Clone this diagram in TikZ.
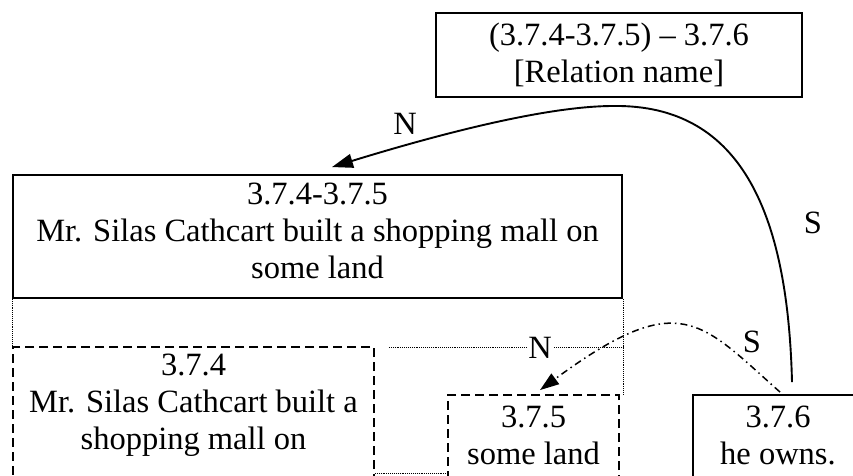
\documentclass[tikz,border=0pt]{standalone}
\usepackage{fontspec}
\setmainfont{Liberation Serif}
\usetikzlibrary{arrows.meta,calc}
\begin{document}
\begin{tikzpicture}[x=1pt,y=-1pt,
  boxsolid/.style={draw, line width=1.9pt, inner sep=0pt, rectangle},
  boxdash/.style={draw, line width=1.9pt, dash pattern=on 9pt off 5pt, inner sep=0pt, rectangle},
  txt/.style={align=center, inner sep=0pt, font=\fontsize{32.5}{37}\selectfont},
  lab/.style={inner sep=1pt, font=\fontsize{32.5}{37}\selectfont},
  dotline/.style={line width=0.9pt, densely dotted},
  rel/.style={line width=1.9pt, -{Triangle[length=21pt,width=14pt]}},
  reldd/.style={line width=1.5pt, dash pattern=on 7pt off 4pt on 1.5pt off 4pt, -{Triangle[length=19pt,width=13pt]}},
]
\clip (0,0) rectangle (853,475);
% boxes
\node[boxsolid, txt, minimum width=366pt, minimum height=84pt] (top) at (619,55)
  {(3.7.4-3.7.5) -- 3.7.6\\{}[Relation name]};
\node[boxsolid, minimum width=609pt, minimum height=123pt] (b345) at (317.5,236.5) {};
\node[txt, anchor=north] (t345) at (317.5,183)
  {3.7.4-3.7.5\\Mr. Silas Cathcart built a shopping mall on\\some land};
\node[boxdash, minimum width=361pt, minimum height=153pt] (b374) at (193.5,423.5) {};
\node[txt, anchor=north] (t374) at (193.5,354)
  {3.7.4\\Mr. Silas Cathcart built a\\shopping mall on};
\node[boxdash, minimum width=171pt, minimum height=100pt] (b375) at (533.5,445) {};
\node[txt, anchor=north] (t375) at (533.5,406) {3.7.5\\some land};
\node[boxsolid, minimum width=170pt, minimum height=100pt] (b376) at (778,445) {};
\node[txt, anchor=north] (t376) at (778,406) {3.7.6\\he owns.};
% dotted outline of the lower span
\draw[dotline] (b345.south west) -- (b374.north west);
\draw[dotline] (b345.south east) -- (b345.south east |- b375.north);
\draw[dotline] ($(b374.north east)+(14,1)$) -- ($(b374.north east -| b345.south east)+(0,1)$);
\draw[dotline] (b374.east |- 0,473) -- (b375.west |- 0,473);
% relations
\draw[rel] ($(b376.north)+(14,-12)$) .. controls (788,220) and (745,104) .. (613,106)
  .. controls (540,106) and (420,140) .. ($(b345.north)+(14.5,-7)$);
\draw[reldd] ($(b376.north)+(2,-2)$) .. controls (700,321) and (680,287) .. ($(b375.north)+(6.5,-4)$);
% labels
\node[lab] (n1) at (405,124) {N};
\node[lab] (s1) at (813,223) {S};
\node[lab, fill=white] (n2) at (540,348) {N};
\node[lab] (s2) at (752,342) {S};
\end{tikzpicture}
\end{document}
